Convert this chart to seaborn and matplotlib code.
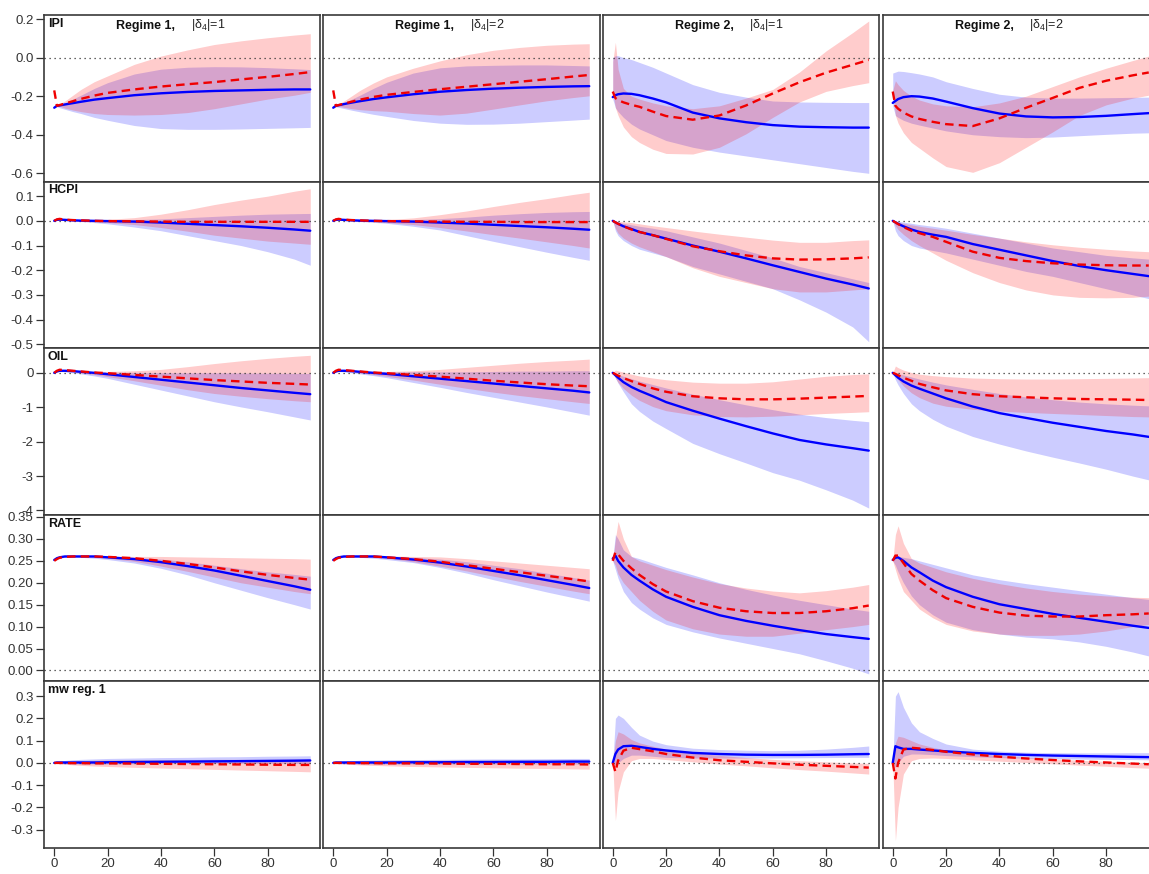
import matplotlib
matplotlib.use("Agg")
import matplotlib.pyplot as plt
import seaborn as sns

H = [0, 1, 2, 4, 7, 10, 15, 20, 30, 40, 50, 60, 70, 80, 90, 96]

col_titles = ["Regime 1,", "Regime 1,", "Regime 2,", "Regime 2,"]
col_deltas = [r"$\mathregular{|δ_4|}$=1", r"$\mathregular{|δ_4|}$=2",
              r"$\mathregular{|δ_4|}$=1", r"$\mathregular{|δ_4|}$=2"]
row_names = ["IPI", "HCPI", "OIL", "RATE", "mw reg. 1"]

x_ticks = [0, 20, 40, 60, 80]
y_ticks = [
    [0.2, 0.0, -0.2, -0.4, -0.6],
    [0.1, 0.0, -0.1, -0.2, -0.3, -0.4, -0.5],
    [0, -1, -2, -3, -4],
    [0.35, 0.30, 0.25, 0.20, 0.15, 0.10, 0.05, 0.00],
    [0.3, 0.2, 0.1, 0.0, -0.1, -0.2, -0.3],
]
y_labels = [
    ["0.2", "0.0", "-0.2", "-0.4", "-0.6"],
    ["0.1", "0.0", "-0.1", "-0.2", "-0.3", "-0.4", "-0.5"],
    ["0", "-1", "-2", "-3", "-4"],
    ["0.35", "0.30", "0.25", "0.20", "0.15", "0.10", "0.05", "0.00"],
    ["0.3", "0.2", "0.1", "0.0", "-0.1", "-0.2", "-0.3"],
]
y_limits = [(-0.643, 0.221), (-0.516, 0.159), (-4.125, 0.716), (-0.025, 0.355), (-0.382, 0.366)]

# ---- IPI ----
ipi_blue = [
    [-0.26, -0.25, -0.248, -0.243, -0.236, -0.229, -0.218, -0.21, -0.195, -0.185, -0.178, -0.173, -0.17, -0.167, -0.165, -0.165],
    [-0.26, -0.25, -0.247, -0.241, -0.233, -0.226, -0.215, -0.206, -0.19, -0.177, -0.168, -0.161, -0.156, -0.152, -0.149, -0.148],
    [-0.205, -0.195, -0.19, -0.186, -0.188, -0.195, -0.212, -0.232, -0.285, -0.315, -0.335, -0.35, -0.358, -0.361, -0.363, -0.363],
    [-0.235, -0.225, -0.215, -0.205, -0.2, -0.202, -0.212, -0.228, -0.262, -0.29, -0.305, -0.31, -0.308, -0.302, -0.293, -0.288],
]
ipi_blue_lo = [
    [-0.26, -0.255, -0.26, -0.268, -0.28, -0.29, -0.31, -0.325, -0.352, -0.368, -0.372, -0.372, -0.37, -0.367, -0.364, -0.362],
    [-0.26, -0.255, -0.258, -0.264, -0.273, -0.281, -0.294, -0.305, -0.326, -0.34, -0.346, -0.345, -0.34, -0.332, -0.324, -0.319],
    [-0.215, -0.26, -0.28, -0.31, -0.345, -0.37, -0.4, -0.43, -0.465, -0.49, -0.51, -0.53, -0.55, -0.57, -0.59, -0.6],
    [-0.25, -0.3, -0.31, -0.325, -0.34, -0.35, -0.365, -0.38, -0.4, -0.41, -0.415, -0.412, -0.405, -0.398, -0.392, -0.39],
]
ipi_blue_hi = [
    [-0.26, -0.25, -0.245, -0.235, -0.215, -0.195, -0.16, -0.13, -0.085, -0.06, -0.05, -0.047, -0.048, -0.052, -0.058, -0.062],
    [-0.26, -0.25, -0.245, -0.235, -0.215, -0.195, -0.16, -0.128, -0.08, -0.053, -0.043, -0.04, -0.038, -0.038, -0.041, -0.043],
    [0.0, 0.01, 0.01, 0.0, -0.01, -0.025, -0.05, -0.08, -0.14, -0.18, -0.205, -0.225, -0.23, -0.232, -0.233, -0.233],
    [-0.08, -0.075, -0.07, -0.072, -0.078, -0.085, -0.1, -0.125, -0.16, -0.19, -0.205, -0.21, -0.21, -0.208, -0.206, -0.205],
]
ipi_red = [
    [-0.17, -0.25, -0.246, -0.238, -0.226, -0.214, -0.197, -0.183, -0.165, -0.15, -0.138, -0.127, -0.113, -0.1, -0.085, -0.075],
    [-0.17, -0.25, -0.246, -0.239, -0.228, -0.218, -0.204, -0.193, -0.178, -0.164, -0.151, -0.138, -0.125, -0.112, -0.098, -0.09],
    [-0.176, -0.21, -0.22, -0.232, -0.245, -0.255, -0.28, -0.303, -0.322, -0.3, -0.248, -0.186, -0.128, -0.078, -0.037, -0.012],
    [-0.176, -0.25, -0.265, -0.285, -0.305, -0.318, -0.333, -0.345, -0.355, -0.315, -0.26, -0.209, -0.157, -0.12, -0.092, -0.077],
]
ipi_red_lo = [
    [-0.17, -0.25, -0.252, -0.262, -0.272, -0.28, -0.29, -0.295, -0.298, -0.295, -0.285, -0.265, -0.24, -0.215, -0.195, -0.18],
    [-0.17, -0.25, -0.252, -0.258, -0.265, -0.27, -0.275, -0.278, -0.29, -0.298, -0.288, -0.267, -0.245, -0.224, -0.207, -0.198],
    [-0.18, -0.26, -0.3, -0.36, -0.41, -0.44, -0.475, -0.497, -0.5, -0.465, -0.395, -0.31, -0.23, -0.175, -0.145, -0.13],
    [-0.18, -0.3, -0.34, -0.39, -0.44, -0.47, -0.52, -0.565, -0.595, -0.545, -0.465, -0.385, -0.3, -0.245, -0.21, -0.195],
]
ipi_red_hi = [
    [-0.17, -0.25, -0.24, -0.225, -0.195, -0.165, -0.125, -0.095, -0.035, 0.008, 0.04, 0.068, 0.087, 0.103, 0.117, 0.124],
    [-0.17, -0.25, -0.24, -0.225, -0.198, -0.17, -0.132, -0.1, -0.055, -0.017, 0.015, 0.038, 0.053, 0.064, 0.07, 0.072],
    [-0.02, 0.08, -0.06, -0.16, -0.2, -0.215, -0.235, -0.25, -0.265, -0.25, -0.21, -0.165, -0.075, 0.035, 0.13, 0.19],
    [-0.17, -0.12, -0.14, -0.17, -0.2, -0.22, -0.24, -0.25, -0.255, -0.235, -0.2, -0.15, -0.1, -0.055, -0.015, 0.008],
]

# ---- HCPI ----
hcpi_blue = [
    [0, 0.004, 0.005, 0.004, 0.002, 0.001, 0.0, -0.001, -0.003, -0.007, -0.012, -0.017, -0.022, -0.028, -0.035, -0.04],
    [0, 0.004, 0.005, 0.004, 0.002, 0.001, 0.0, -0.001, -0.003, -0.007, -0.011, -0.016, -0.021, -0.026, -0.032, -0.036],
    [0, -0.006, -0.012, -0.022, -0.033, -0.045, -0.058, -0.072, -0.1, -0.125, -0.152, -0.18, -0.207, -0.234, -0.258, -0.274],
    [0, -0.006, -0.012, -0.022, -0.035, -0.045, -0.056, -0.065, -0.094, -0.117, -0.14, -0.163, -0.183, -0.2, -0.215, -0.224],
]
hcpi_blue_lo = [
    [0, 0.003, 0.004, 0.002, 0.0, -0.003, -0.007, -0.012, -0.025, -0.04, -0.06, -0.08, -0.1, -0.125, -0.155, -0.18],
    [0, 0.003, 0.004, 0.002, 0.0, -0.003, -0.006, -0.01, -0.022, -0.037, -0.06, -0.083, -0.105, -0.127, -0.148, -0.16],
    [0, -0.04, -0.06, -0.08, -0.1, -0.115, -0.13, -0.145, -0.185, -0.215, -0.245, -0.275, -0.32, -0.37, -0.43, -0.49],
    [0, -0.04, -0.06, -0.08, -0.1, -0.11, -0.12, -0.13, -0.155, -0.18, -0.205, -0.225, -0.25, -0.275, -0.3, -0.315],
]
hcpi_blue_hi = [
    [0, 0.005, 0.006, 0.005, 0.004, 0.003, 0.003, 0.003, 0.005, 0.008, 0.013, 0.018, 0.023, 0.027, 0.029, 0.03],
    [0, 0.005, 0.006, 0.005, 0.004, 0.003, 0.003, 0.003, 0.005, 0.009, 0.015, 0.023, 0.029, 0.034, 0.037, 0.038],
    [0, -0.003, -0.006, -0.01, -0.016, -0.022, -0.03, -0.04, -0.065, -0.09, -0.12, -0.15, -0.185, -0.21, -0.235, -0.25],
    [0, 0.0, -0.002, -0.005, -0.01, -0.015, -0.022, -0.03, -0.05, -0.07, -0.09, -0.11, -0.125, -0.14, -0.15, -0.155],
]
hcpi_red = [
    [0, 0.006, 0.008, 0.005, 0.003, 0.002, 0.0, -0.001, -0.002, -0.003, -0.004, -0.004, -0.004, -0.004, -0.004, -0.004],
    [0, 0.006, 0.008, 0.005, 0.003, 0.002, 0.0, -0.001, -0.002, -0.003, -0.004, -0.004, -0.005, -0.005, -0.005, -0.005],
    [0, -0.006, -0.012, -0.022, -0.035, -0.045, -0.058, -0.073, -0.103, -0.123, -0.14, -0.152, -0.157, -0.156, -0.152, -0.148],
    [0, -0.006, -0.013, -0.025, -0.04, -0.05, -0.065, -0.085, -0.125, -0.15, -0.163, -0.172, -0.177, -0.18, -0.181, -0.181],
]
hcpi_red_lo = [
    [0, 0.005, 0.006, 0.003, 0.0, -0.002, -0.004, -0.007, -0.015, -0.027, -0.042, -0.058, -0.07, -0.082, -0.09, -0.095],
    [0, 0.005, 0.006, 0.003, 0.0, -0.002, -0.004, -0.007, -0.015, -0.027, -0.041, -0.056, -0.07, -0.085, -0.1, -0.11],
    [0, -0.03, -0.05, -0.07, -0.09, -0.105, -0.125, -0.145, -0.19, -0.225, -0.25, -0.275, -0.288, -0.288, -0.28, -0.275],
    [0, -0.02, -0.035, -0.055, -0.08, -0.1, -0.13, -0.16, -0.21, -0.25, -0.28, -0.3, -0.31, -0.312, -0.31, -0.305],
]
hcpi_red_hi = [
    [0, 0.007, 0.009, 0.007, 0.005, 0.004, 0.004, 0.006, 0.013, 0.027, 0.045, 0.066, 0.084, 0.1, 0.12, 0.13],
    [0, 0.007, 0.009, 0.007, 0.005, 0.004, 0.004, 0.005, 0.012, 0.025, 0.04, 0.058, 0.075, 0.09, 0.107, 0.116],
    [0, -0.001, -0.002, -0.004, -0.007, -0.012, -0.02, -0.027, -0.041, -0.054, -0.066, -0.078, -0.087, -0.087, -0.08, -0.077],
    [0, -0.002, -0.005, -0.01, -0.016, -0.022, -0.03, -0.038, -0.055, -0.07, -0.085, -0.097, -0.107, -0.115, -0.122, -0.125],
]

# ---- OIL ----
oil_blue = [
    [0, 0.04, 0.06, 0.06, 0.05, 0.03, 0.0, -0.04, -0.12, -0.2, -0.28, -0.36, -0.44, -0.51, -0.58, -0.62],
    [0, 0.04, 0.06, 0.06, 0.05, 0.03, 0.0, -0.03, -0.1, -0.17, -0.24, -0.31, -0.38, -0.45, -0.52, -0.57],
    [0, -0.07, -0.14, -0.27, -0.41, -0.52, -0.68, -0.85, -1.1, -1.33, -1.55, -1.76, -1.95, -2.08, -2.19, -2.26],
    [0, -0.07, -0.14, -0.25, -0.37, -0.46, -0.6, -0.74, -0.98, -1.17, -1.31, -1.45, -1.57, -1.69, -1.79, -1.86],
]
oil_blue_lo = [
    [0, 0.03, 0.04, 0.03, 0.0, -0.03, -0.09, -0.16, -0.33, -0.5, -0.67, -0.84, -0.99, -1.13, -1.28, -1.37],
    [0, 0.03, 0.04, 0.03, 0.0, -0.03, -0.08, -0.14, -0.28, -0.42, -0.57, -0.71, -0.85, -0.99, -1.14, -1.23],
    [0, -0.15, -0.3, -0.55, -0.9, -1.12, -1.4, -1.62, -2.05, -2.35, -2.62, -2.9, -3.12, -3.4, -3.7, -3.93],
    [0, -0.2, -0.35, -0.6, -0.9, -1.1, -1.35, -1.55, -1.85, -2.07, -2.27, -2.45, -2.62, -2.8, -3.0, -3.11],
]
oil_blue_hi = [
    [0, 0.05, 0.07, 0.07, 0.06, 0.05, 0.03, 0.02, 0.01, 0.005, 0.0, 0.0, -0.005, -0.01, -0.015, -0.02],
    [0, 0.05, 0.07, 0.07, 0.06, 0.05, 0.04, 0.03, 0.03, 0.03, 0.03, 0.04, 0.05, 0.05, 0.06, 0.06],
    [0, -0.02, -0.05, -0.1, -0.17, -0.24, -0.34, -0.44, -0.62, -0.78, -0.93, -1.07, -1.2, -1.3, -1.38, -1.42],
    [0, 0.0, -0.02, -0.06, -0.12, -0.18, -0.27, -0.35, -0.48, -0.6, -0.7, -0.78, -0.85, -0.9, -0.94, -0.96],
]
oil_red = [
    [0, 0.06, 0.09, 0.08, 0.06, 0.04, 0.01, -0.01, -0.06, -0.11, -0.16, -0.21, -0.25, -0.29, -0.32, -0.34],
    [0, 0.06, 0.09, 0.08, 0.06, 0.04, 0.01, -0.01, -0.06, -0.11, -0.17, -0.23, -0.28, -0.33, -0.37, -0.39],
    [0, -0.04, -0.08, -0.15, -0.24, -0.32, -0.45, -0.55, -0.68, -0.74, -0.77, -0.77, -0.75, -0.72, -0.69, -0.67],
    [0, -0.03, -0.07, -0.14, -0.23, -0.32, -0.42, -0.51, -0.62, -0.68, -0.71, -0.74, -0.76, -0.77, -0.78, -0.79],
]
oil_red_lo = [
    [0, 0.04, 0.06, 0.05, 0.03, 0.0, -0.05, -0.11, -0.23, -0.36, -0.49, -0.6, -0.68, -0.75, -0.81, -0.84],
    [0, 0.04, 0.06, 0.05, 0.03, 0.0, -0.05, -0.1, -0.21, -0.33, -0.45, -0.56, -0.66, -0.75, -0.84, -0.89],
    [0, -0.15, -0.28, -0.45, -0.65, -0.8, -0.98, -1.1, -1.22, -1.27, -1.28, -1.26, -1.22, -1.18, -1.15, -1.13],
    [0, -0.1, -0.2, -0.38, -0.58, -0.72, -0.88, -0.97, -1.06, -1.11, -1.15, -1.18, -1.21, -1.24, -1.27, -1.28],
]
oil_red_hi = [
    [0, 0.07, 0.1, 0.09, 0.07, 0.05, 0.04, 0.04, 0.06, 0.1, 0.18, 0.27, 0.35, 0.42, 0.48, 0.51],
    [0, 0.07, 0.1, 0.09, 0.07, 0.05, 0.04, 0.04, 0.06, 0.1, 0.16, 0.22, 0.28, 0.33, 0.37, 0.4],
    [0, 0.08, 0.06, 0.02, -0.04, -0.09, -0.15, -0.2, -0.27, -0.3, -0.3, -0.26, -0.18, -0.1, -0.05, -0.03],
    [0, 0.2, 0.15, 0.08, 0.01, -0.04, -0.08, -0.11, -0.15, -0.17, -0.18, -0.18, -0.17, -0.16, -0.15, -0.14],
]

# ---- RATE ----
rate_blue = [
    [0.252, 0.256, 0.258, 0.26, 0.26, 0.26, 0.26, 0.258, 0.254, 0.247, 0.238, 0.228, 0.216, 0.204, 0.192, 0.184],
    [0.252, 0.256, 0.258, 0.26, 0.26, 0.26, 0.26, 0.258, 0.253, 0.246, 0.237, 0.227, 0.217, 0.206, 0.195, 0.188],
    [0.255, 0.262, 0.25, 0.235, 0.218, 0.205, 0.185, 0.168, 0.145, 0.126, 0.113, 0.102, 0.092, 0.083, 0.076, 0.072],
    [0.252, 0.257, 0.258, 0.25, 0.235, 0.224, 0.205, 0.19, 0.168, 0.151, 0.14, 0.129, 0.12, 0.111, 0.102, 0.097],
]
rate_blue_lo = [
    [0.252, 0.255, 0.257, 0.258, 0.258, 0.258, 0.256, 0.253, 0.245, 0.233, 0.218, 0.2, 0.183, 0.166, 0.15, 0.14],
    [0.252, 0.255, 0.257, 0.258, 0.258, 0.258, 0.256, 0.253, 0.246, 0.235, 0.222, 0.207, 0.193, 0.179, 0.166, 0.158],
    [0.25, 0.23, 0.21, 0.18, 0.155, 0.14, 0.12, 0.105, 0.088, 0.074, 0.062, 0.05, 0.038, 0.022, 0.005, -0.008],
    [0.25, 0.24, 0.225, 0.2, 0.17, 0.15, 0.127, 0.11, 0.093, 0.083, 0.076, 0.072, 0.065, 0.055, 0.042, 0.033],
]
rate_blue_hi = [
    [0.252, 0.257, 0.259, 0.261, 0.261, 0.261, 0.261, 0.26, 0.258, 0.254, 0.248, 0.24, 0.232, 0.225, 0.219, 0.215],
    [0.252, 0.257, 0.259, 0.261, 0.261, 0.261, 0.261, 0.26, 0.258, 0.254, 0.248, 0.24, 0.232, 0.222, 0.212, 0.206],
    [0.255, 0.31, 0.3, 0.275, 0.26, 0.255, 0.245, 0.235, 0.218, 0.2, 0.185, 0.172, 0.16, 0.15, 0.14, 0.135],
    [0.252, 0.258, 0.26, 0.258, 0.255, 0.25, 0.242, 0.234, 0.218, 0.207, 0.198, 0.19, 0.182, 0.174, 0.166, 0.162],
]
rate_red = [
    [0.25, 0.254, 0.257, 0.259, 0.26, 0.26, 0.26, 0.259, 0.256, 0.25, 0.243, 0.235, 0.226, 0.218, 0.211, 0.207],
    [0.25, 0.254, 0.257, 0.259, 0.26, 0.26, 0.26, 0.258, 0.254, 0.248, 0.24, 0.232, 0.224, 0.216, 0.208, 0.203],
    [0.25, 0.27, 0.265, 0.25, 0.233, 0.218, 0.197, 0.18, 0.158, 0.143, 0.135, 0.131, 0.131, 0.135, 0.142, 0.148],
    [0.25, 0.262, 0.262, 0.245, 0.22, 0.205, 0.183, 0.165, 0.145, 0.132, 0.125, 0.123, 0.123, 0.126, 0.128, 0.13],
]
rate_red_lo = [
    [0.25, 0.254, 0.256, 0.258, 0.259, 0.259, 0.258, 0.256, 0.249, 0.238, 0.226, 0.213, 0.2, 0.19, 0.18, 0.175],
    [0.25, 0.254, 0.256, 0.258, 0.259, 0.259, 0.258, 0.256, 0.248, 0.238, 0.227, 0.215, 0.203, 0.192, 0.181, 0.175],
    [0.25, 0.24, 0.22, 0.2, 0.18, 0.16, 0.135, 0.115, 0.095, 0.083, 0.078, 0.078, 0.085, 0.093, 0.1, 0.105],
    [0.25, 0.23, 0.21, 0.18, 0.16, 0.14, 0.12, 0.105, 0.09, 0.083, 0.08, 0.08, 0.083, 0.09, 0.1, 0.105],
]
rate_red_hi = [
    [0.25, 0.255, 0.258, 0.26, 0.261, 0.261, 0.261, 0.261, 0.26, 0.26, 0.259, 0.258, 0.257, 0.256, 0.255, 0.254],
    [0.25, 0.255, 0.258, 0.26, 0.261, 0.261, 0.261, 0.261, 0.26, 0.259, 0.255, 0.25, 0.245, 0.24, 0.235, 0.232],
    [0.25, 0.3, 0.34, 0.3, 0.26, 0.25, 0.24, 0.23, 0.213, 0.198, 0.188, 0.181, 0.177, 0.182, 0.19, 0.196],
    [0.25, 0.31, 0.33, 0.29, 0.255, 0.245, 0.235, 0.225, 0.21, 0.198, 0.188, 0.18, 0.174, 0.17, 0.167, 0.166],
]

# ---- mw reg. 1 ----
mw_blue = [
    [0, 0.002, 0.002, 0.002, 0.002, 0.002, 0.002, 0.003, 0.004, 0.005, 0.006, 0.007, 0.008, 0.009, 0.01, 0.011],
    [0, 0.002, 0.002, 0.002, 0.002, 0.002, 0.002, 0.002, 0.003, 0.003, 0.004, 0.004, 0.005, 0.005, 0.006, 0.006],
    [0, 0.04, 0.06, 0.075, 0.077, 0.072, 0.063, 0.056, 0.045, 0.04, 0.037, 0.036, 0.036, 0.037, 0.039, 0.04],
    [0, 0.075, 0.07, 0.063, 0.063, 0.06, 0.056, 0.052, 0.045, 0.04, 0.036, 0.033, 0.031, 0.029, 0.027, 0.026],
]
mw_blue_lo = [
    [0, -0.002, -0.003, -0.004, -0.005, -0.005, -0.005, -0.005, -0.004, -0.003, -0.003, -0.002, -0.002, -0.002, -0.002, -0.002],
    [0, -0.002, -0.003, -0.004, -0.005, -0.005, -0.005, -0.005, -0.005, -0.005, -0.005, -0.005, -0.005, -0.005, -0.005, -0.005],
    [0, -0.01, 0.0, 0.02, 0.035, 0.035, 0.03, 0.025, 0.022, 0.022, 0.022, 0.022, 0.023, 0.024, 0.025, 0.025],
    [0, -0.02, 0.0, 0.03, 0.04, 0.04, 0.037, 0.033, 0.028, 0.024, 0.021, 0.019, 0.017, 0.016, 0.015, 0.014],
]
mw_blue_hi = [
    [0, 0.005, 0.008, 0.011, 0.014, 0.016, 0.018, 0.02, 0.022, 0.024, 0.025, 0.027, 0.028, 0.03, 0.031, 0.032],
    [0, 0.004, 0.006, 0.008, 0.01, 0.012, 0.013, 0.014, 0.015, 0.016, 0.017, 0.018, 0.018, 0.019, 0.02, 0.02],
    [0, 0.2, 0.215, 0.2, 0.16, 0.125, 0.098, 0.082, 0.066, 0.06, 0.057, 0.055, 0.057, 0.062, 0.07, 0.076],
    [0, 0.3, 0.32, 0.25, 0.18, 0.14, 0.11, 0.085, 0.062, 0.053, 0.048, 0.046, 0.045, 0.045, 0.046, 0.046],
]
mw_red = [
    [0, 0, 0, 0, -0.001, -0.001, -0.002, -0.002, -0.003, -0.004, -0.005, -0.006, -0.007, -0.008, -0.009, -0.009],
    [0, 0, 0, 0, -0.001, -0.001, -0.001, -0.002, -0.002, -0.003, -0.004, -0.004, -0.005, -0.006, -0.006, -0.007],
    [0, -0.04, 0.01, 0.055, 0.068, 0.062, 0.052, 0.04, 0.024, 0.012, 0.005, -0.002, -0.008, -0.013, -0.018, -0.021],
    [0, -0.07, 0.0, 0.06, 0.068, 0.065, 0.058, 0.05, 0.038, 0.028, 0.02, 0.013, 0.007, 0.002, -0.003, -0.006],
]
mw_red_lo = [
    [0, -0.002, -0.004, -0.006, -0.009, -0.011, -0.014, -0.016, -0.02, -0.023, -0.026, -0.029, -0.032, -0.035, -0.038, -0.04],
    [0, -0.002, -0.003, -0.005, -0.007, -0.009, -0.011, -0.013, -0.016, -0.018, -0.02, -0.022, -0.024, -0.025, -0.027, -0.028],
    [0, -0.26, -0.13, -0.04, 0.01, 0.02, 0.02, 0.015, 0.005, -0.005, -0.013, -0.022, -0.03, -0.037, -0.045, -0.05],
    [0, -0.35, -0.2, -0.05, 0.01, 0.02, 0.022, 0.02, 0.014, 0.008, 0.002, -0.004, -0.01, -0.015, -0.021, -0.024],
]
mw_red_hi = [
    [0, 0.002, 0.004, 0.006, 0.008, 0.01, 0.012, 0.013, 0.014, 0.015, 0.015, 0.016, 0.016, 0.016, 0.017, 0.017],
    [0, 0.002, 0.004, 0.006, 0.008, 0.009, 0.01, 0.011, 0.012, 0.012, 0.012, 0.012, 0.012, 0.012, 0.012, 0.012],
    [0, 0.1, 0.14, 0.13, 0.105, 0.09, 0.075, 0.062, 0.046, 0.034, 0.024, 0.016, 0.01, 0.005, 0.0, -0.002],
    [0, 0.09, 0.12, 0.115, 0.1, 0.085, 0.07, 0.058, 0.043, 0.033, 0.025, 0.018, 0.012, 0.007, 0.003, 0.001],
]

rows = [
    (ipi_blue, ipi_blue_lo, ipi_blue_hi, ipi_red, ipi_red_lo, ipi_red_hi),
    (hcpi_blue, hcpi_blue_lo, hcpi_blue_hi, hcpi_red, hcpi_red_lo, hcpi_red_hi),
    (oil_blue, oil_blue_lo, oil_blue_hi, oil_red, oil_red_lo, oil_red_hi),
    (rate_blue, rate_blue_lo, rate_blue_hi, rate_red, rate_red_lo, rate_red_hi),
    (mw_blue, mw_blue_lo, mw_blue_hi, mw_red, mw_red_lo, mw_red_hi),
]

BLUE = "#0000ff"
RED = "#f00000"
W, HT = 1149, 874


def draw_panel(ax, series, col):
    """Bands first, then the two median responses, then the zero line."""
    blue, blue_lo, blue_hi, red, red_lo, red_hi = (s[col] for s in series)
    ax.fill_between(H, blue_lo, blue_hi, color=BLUE, alpha=0.2, linewidth=0)
    ax.fill_between(H, red_lo, red_hi, color="red", alpha=0.2, linewidth=0)
    ax.axhline(0, color="#333333", linewidth=0.9, linestyle=(0, (1, 3)), zorder=1)
    sns.lineplot(x=H, y=blue, ax=ax, color=BLUE, linewidth=1.7, errorbar=None)
    sns.lineplot(x=H, y=red, ax=ax, color=RED, linewidth=1.7, errorbar=None,
                 linestyle=(0, (3.6, 2.2)))


def main():
    sns.set_theme(style="ticks")
    plt.rcParams["font.family"] = ["Liberation Sans", "DejaVu Sans"]
    plt.rcParams["mathtext.fontset"] = "custom"
    plt.rcParams["mathtext.rm"] = "Liberation Sans"

    fig = plt.figure(figsize=(W / 100, HT / 100), dpi=100)
    lefts = [44, 323, 602.5, 882.5]
    panel_w, panel_h, top0 = 276.5, 166.6, 15

    for r in range(5):
        for c in range(4):
            top = top0 + r * panel_h
            ax = fig.add_axes([lefts[c] / W, 1 - (top + panel_h) / HT, panel_w / W, panel_h / HT])
            draw_panel(ax, rows[r], c)
            ax.set_xlim(-3.84, 99.84)
            ax.set_ylim(*y_limits[r])
            for sp in ax.spines.values():
                sp.set_visible(True)
                sp.set_color("#3a3a3a")
                sp.set_linewidth(1.2)
            ax.tick_params(direction="out", length=5.5, width=0.9, color="#333333",
                           labelsize=9.5, labelcolor="#333333", pad=2)
            if c == 0:
                ax.set_yticks(y_ticks[r])
                ax.set_yticklabels(y_labels[r])
                ax.text(0.014, 0.983, row_names[r], transform=ax.transAxes, ha="left", va="top",
                        fontsize=9, fontweight="bold", color="#111111")
            else:
                ax.set_yticks([])
            if r == 4:
                ax.set_xticks(x_ticks)
                ax.set_xticklabels([str(t) for t in x_ticks])
            else:
                ax.set_xticks([])
            if r == 0:
                ax.text(0.475, 0.932, col_titles[c], transform=ax.transAxes, ha="right", va="center",
                        fontsize=9, fontweight="bold", color="#111111")
                ax.text(0.53, 0.942, col_deltas[c], transform=ax.transAxes, ha="left", va="center",
                        fontsize=9, color="#222222")
            ax.set_xlabel("")
            ax.set_ylabel("")

    fig.savefig("out.png", dpi=100)


if __name__ == "__main__":
    main()
